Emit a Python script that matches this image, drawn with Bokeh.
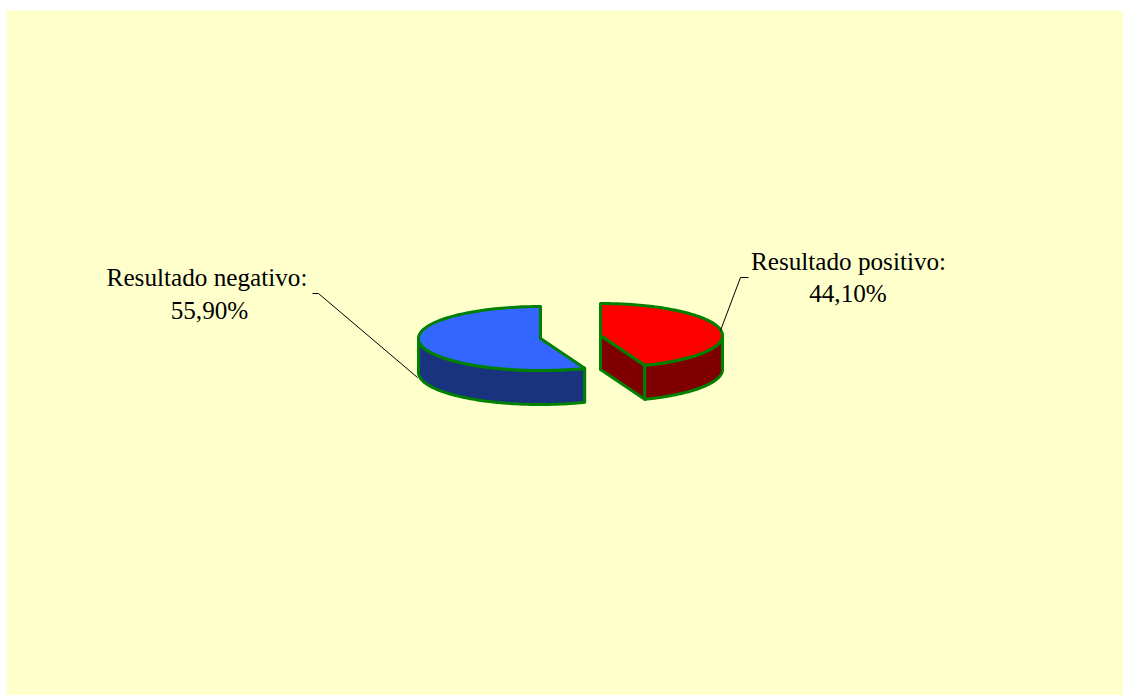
import numpy as np
from bokeh.plotting import figure
from bokeh.models import Range1d, Label
from bokeh.embed import file_html
from bokeh.resources import INLINE

categories = ["Resultado positivo", "Resultado negativo"]
shares = [44.10, 55.90]
value_labels = ["44,10%", "55,90%"]

W, H = 1123, 695
BG = "#FFFFCC"
EDGE = "#008000"

p = figure(width=W, height=H, output_backend="svg", toolbar_location=None,
           x_range=Range1d(6, W), y_range=Range1d(H, 10),
           min_border_left=6, min_border_top=10, min_border_right=0, min_border_bottom=0,
           border_fill_color="white", background_fill_color=BG,
           outline_line_color=None)
p.axis.visible = False
p.grid.visible = False

A, B, D = 122, 32, 34
cut = shares[0] / 100 * 2 * np.pi


def pt(cx, cy, t):
    return cx + A * np.sin(t), cy - B * np.cos(t)


def arc(cx, cy, t0, t1, n=120):
    return pt(cx, cy, np.linspace(t0, t1, n))


def draw(xs, ys, color):
    p.patch(list(xs), list(ys), fill_color=color, line_color=EDGE, line_width=3,
            line_join="round")


# positive slice
cx, cy = 600, 335
vx, vy = pt(cx, cy, cut)
draw([cx, vx, vx, cx], [cy, vy, vy + D, cy + D], "#7F0000")
ax, ay = arc(cx, cy, np.pi / 2, cut)
draw(np.r_[ax, ax[::-1]], np.r_[ay, ay[::-1] + D], "#7F0000")
ax, ay = arc(cx, cy, 0, cut)
draw(np.r_[cx, ax], np.r_[cy, ay], "#FF0000")

# negative slice
cx2, cy2 = 540, 338
ax, ay = arc(cx2, cy2, cut, 3 * np.pi / 2)
draw(np.r_[ax, ax[::-1]], np.r_[ay, ay[::-1] + D], "#19337F")
ax, ay = arc(cx2, cy2, cut, 2 * np.pi)
draw(np.r_[cx2, ax], np.r_[cy2, ay], "#3366FF")

# leaders
p.line([720, 740, 748], [330, 277, 277], line_color="black", line_width=1)
p.line([312, 318, 417], [293, 293, 377], line_color="black", line_width=1)

# labels
FONT = "Liberation Serif"
FS = "25.2px"
for x, y, t in [(848, 261, categories[0] + ":"), (847.5, 293, value_labels[0]),
                (206.5, 277, categories[1] + ":"), (209, 310, value_labels[1])]:
    p.add_layout(Label(x=x, y=y, text=t, text_font=FONT, text_font_size=FS,
                       text_color="black", text_align="center", text_baseline="alphabetic"))

open("out.html", "w").write(file_html(p, INLINE))
